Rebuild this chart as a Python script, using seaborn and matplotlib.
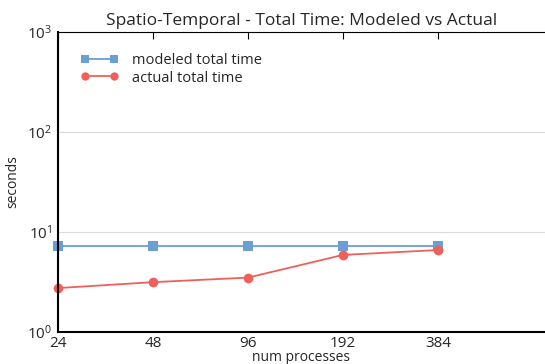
import numpy as np
import pandas as pd
import seaborn as sns
import matplotlib
matplotlib.use("Agg")
import matplotlib.pyplot as plt
from matplotlib.ticker import FixedLocator, NullLocator, LogLocator

# Data
procs = [24, 48, 96, 192, 384]
modeled = [7.2, 7.2, 7.2, 7.2, 7.2]
actual = [2.75, 3.15, 3.5, 5.9, 6.6]

sns.set_style("white")
plt.rcParams['font.family'] = ['Open Sans', 'DejaVu Sans']

df = pd.DataFrame({
    "num processes": procs * 2,
    "seconds": modeled + actual,
    "series": ["modeled total time"] * 5 + ["actual total time"] * 5,
})

fig = plt.figure(figsize=(5.45, 3.64), dpi=100)
ax = fig.add_axes([58 / 545, 32 / 364, 487 / 545, 300 / 364])

sns.lineplot(data=df, x="num processes", y="seconds", hue="series", style="series",
             markers={"modeled total time": "s", "actual total time": "o"},
             dashes=False, palette={"modeled total time": "#6a9fd4", "actual total time": "#ef605a"},
             markersize=7, markeredgewidth=0, linewidth=1.3, ax=ax, clip_on=False)

ax.set_xscale("log", base=2)
ax.set_yscale("log")
ax.set_xlim(24, 24 * 2 ** (487 / 95))
ax.set_ylim(1, 1000)
ax.xaxis.set_major_locator(FixedLocator(procs))
ax.xaxis.set_minor_locator(NullLocator())
ax.set_xticklabels([str(p) for p in procs])
ax.yaxis.set_major_locator(LogLocator(base=10))
ax.yaxis.set_minor_locator(NullLocator())

ax.grid(axis="y", color="#d9d9d9", linewidth=0.8)
ax.set_axisbelow(True)
for side in ["left", "bottom"]:
    ax.spines[side].set_color("black")
    ax.spines[side].set_linewidth(1.5)
ax.spines["top"].set_color("black")
ax.spines["top"].set_linewidth(0.8)
ax.spines["right"].set_visible(False)
ax.tick_params(axis="x", direction="in", top=True, bottom=False, length=5, labelsize=11, pad=3, color="black")
ax.tick_params(axis="y", direction="in", left=False, labelsize=11, pad=4)

ax.set_xlabel("num processes", fontsize=10, labelpad=-1)
ax.set_ylabel("seconds", fontsize=10, labelpad=5)
ax.set_title("Spatio-Temporal - Total Time: Modeled vs Actual", fontsize=12.5, pad=5)

handles, labels = ax.get_legend_handles_labels()
for h in handles:
    h.set_markersize(6)
ax.legend(handles, labels, loc="upper left", frameon=False, fontsize=10.5, handlelength=2.6,
          numpoints=2, bbox_to_anchor=(0.02, 0.975), labelspacing=0.2, handletextpad=0.9)

fig.savefig("out.png", dpi=100)
